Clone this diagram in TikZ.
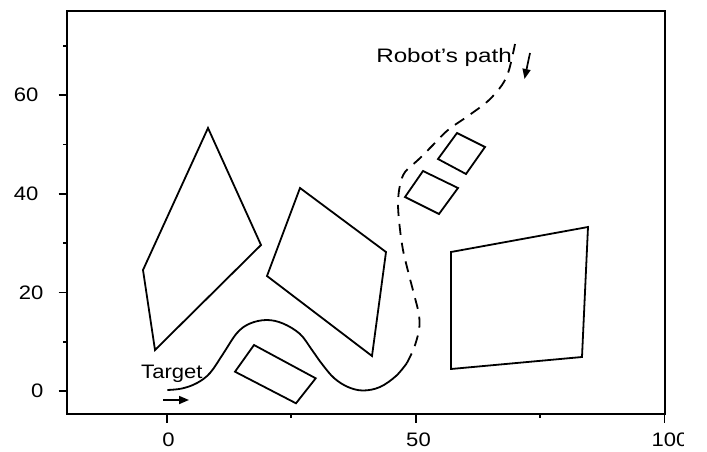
\documentclass[tikz,border=0pt]{standalone}
\usepackage{fontspec}
\setmainfont{Liberation Sans}
\usetikzlibrary{arrows.meta}
\begin{document}
\begin{tikzpicture}[x=1pt,y=-1pt,
  lbl/.style={font=\fontsize{19.5}{19.5}\selectfont, inner sep=0pt, xscale=1.13},
  obst/.style={line width=1.8pt, line join=miter},
  frame/.style={line width=2pt},
  tk/.style={line width=1.8pt},
  pathsolid/.style={line width=1.8pt},
  pathdash/.style={line width=1.8pt, dash pattern=on 11pt off 8pt},
  arr/.style={line width=1.7pt, -{Triangle[length=10pt,width=8pt]}}]
\useasboundingbox (0,0) rectangle (707,452);
% frame
\draw[frame] (67,11.5) rectangle (664.5,413.5);
% y ticks
\foreach \yy in {391,292.4,193.8,95.2} \draw[tk] (58.5,\yy) -- (67,\yy);
\foreach \yy in {341.7,243.1,144.5,45.9} \draw[tk] (63,\yy) -- (67,\yy);
% x ticks
\foreach \xx in {166.7,415.7,664.5} \draw[tk] (\xx,413.5) -- (\xx,423);
\foreach \xx in {291.2,540.2} \draw[tk] (\xx,413.5) -- (\xx,418);
% y labels
\node[lbl, anchor=east] (y60) at (38.5,95.2) {60};
\node[lbl, anchor=east] (y40) at (38.5,193.8) {40};
\node[lbl, anchor=east] (y20) at (43.5,292.4) {20};
\node[lbl, anchor=east] (y0) at (43.5,391) {0};
% x labels
\node[lbl] (x0) at (168.5,440) {0};
\node[lbl] (x50) at (418.5,440) {50};
\begin{scope}
  \clip (600,420) rectangle (683,452);
  \node[lbl] (x100) at (670,440) {100};
\end{scope}
% obstacles
\draw[obst] (208,128) -- (261,245) -- (155,350) -- (143,270) -- cycle;
\draw[obst] (300,188) -- (386,252) -- (372,356) -- (267,276) -- cycle;
\draw[obst] (254,345) -- (315.7,378.3) -- (296,403.3) -- (235,371.7) -- cycle;
\draw[obst] (451,252) -- (588,227) -- (582,357) -- (451,369) -- cycle;
\draw[obst] (457,133) -- (485,147) -- (466,174) -- (438,159) -- cycle;
\draw[obst] (423,171) -- (458,188) -- (439,214) -- (405,197) -- cycle;
% robot path
\coordinate (pstart) at (167.3,390);
\coordinate (pmid) at (406.7,363.3);
\coordinate (pend) at (515,44);
\draw[pathsolid] plot[smooth, tension=0.6] coordinates {(167.3,390) (182,388.5) (197,383) (210,373) (223,354) (237,333) (250,323.5) (266.7,320) (283,323.5) (300,334) (312,350) (322,364) (334,378) (348,387) (363,390.5) (380,387) (396,376) (406.7,363.3)};
\draw[pathdash] plot[smooth, tension=0.55] coordinates {(406.7,363.3) (414,348) (419,330) (419,315) (415,298) (409,275) (403,250) (399.5,225) (398,203) (400,185) (405,172) (418,160) (432,146) (448,130) (468,116) (488,101) (502,85) (509,70) (515,44)};
% arrows
\coordinate (ta1) at (163,400);
\coordinate (ta2) at (189,400);
\draw[arr] (ta1) -- (ta2);
\coordinate (ra1) at (530,53);
\coordinate (ra2) at (524.5,79);
\draw[arr] (ra1) -- (ra2);
% labels
\node[lbl, anchor=base west] (target) at (141,378) {Target};
\node[lbl, anchor=base west, xscale=1.1] (robot) at (376,63) {Robot’s path};
\end{tikzpicture}
\end{document}
